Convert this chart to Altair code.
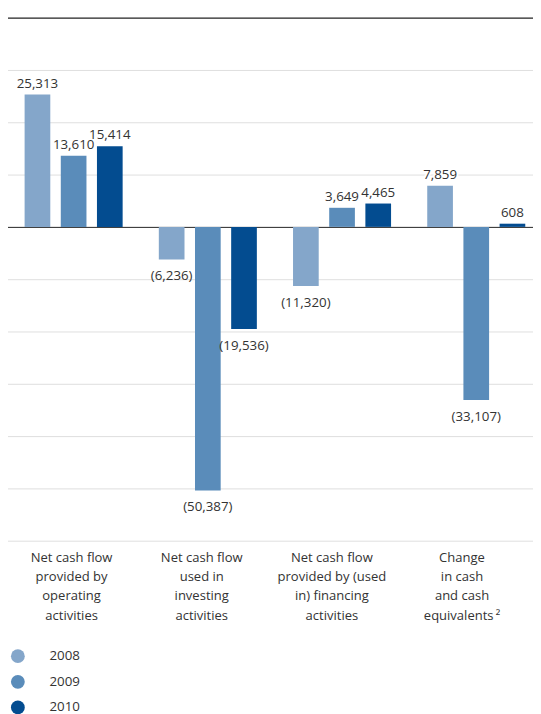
import altair as alt
import pandas as pd

categories = [
    "Net cash flow\nprovided by\noperating\nactivities",
    "Net cash flow\nused in\ninvesting\nactivities",
    "Net cash flow\nprovided by (used\nin) financing\nactivities",
    "Change\nin cash\nand cash\nequivalents\u2009\u00b2",
]
years = ["2008", "2009", "2010"]
values_2008 = [25313, -6236, -11320, 7859]
values_2009 = [13610, -50387, 3649, -33107]
values_2010 = [15414, -19536, 4465, 608]
grid_ticks = [40000, 30000, 20000, 10000, 0, -10000, -20000, -30000, -40000, -50000, -60000]

colors = ["#84a6ca", "#5a8cba", "#034c90"]
FONT = "Open Sans"
FS = 13.5
TXT = "#333333"

rows = []
for yr, vals in zip(years, [values_2008, values_2009, values_2010]):
    for c, v in zip(categories, vals):
        rows.append({"category": c, "year": yr, "value": v})
df = pd.DataFrame(rows)
cat_df = pd.DataFrame({"category": categories})

W, H = 530, 530

def xenc():
    return alt.X("category:N", sort=categories,
                 scale=alt.Scale(domain=categories, range=[-3.5, 540.5],
                                 paddingInner=0, paddingOuter=0),
                 axis=None)

def xoff():
    return alt.XOffset("year:N", sort=years,
                       scale=alt.Scale(domain=years, paddingInner=0.29, paddingOuter=0.5))

yscale = alt.Scale(domain=[-60000, 40000], nice=False)

base = alt.Chart(df).encode(x=xenc(), xOffset=xoff())

bars = base.mark_bar().encode(
    y=alt.Y("value:Q", scale=yscale,
            axis=alt.Axis(values=grid_ticks, grid=True, labels=False, ticks=False,
                          domain=False, title=None,
                          gridColor=alt.condition("datum.value == 0 || datum.value == 40000",
                                                  alt.value("#222222"), alt.value("#dedede")),
                          gridWidth=alt.condition("datum.value == 40000",
                                                  alt.value(1.4), alt.value(1)))),
    color=alt.Color("year:N", sort=years,
                    scale=alt.Scale(domain=years, range=colors),
                    legend=alt.Legend(title=None, orient="none", legendX=1, legendY=640,
                                      direction="vertical", symbolType="circle",
                                      symbolSize=196, symbolStrokeWidth=0,
                                      symbolOpacity=1,
                                      labelFont=FONT, labelFontSize=FS, labelColor=TXT,
                                      labelOffset=25, rowPadding=12, padding=0)),
)

lab_expr = "datum.value < 0 ? '(' + format(-datum.value, ',') + ')' : format(datum.value, ',')"
labbase = base.transform_calculate(lab=lab_expr)

def txt(filt, dy, baseline, halo):
    kw = dict(font=FONT, fontSize=FS, dy=dy, baseline=baseline, align="center")
    if halo:
        kw.update(stroke="white", strokeWidth=4, strokeJoin="round", fill="white")
    else:
        kw.update(color=TXT)
    return labbase.transform_filter(filt).mark_text(**kw).encode(
        y=alt.Y("value:Q", scale=yscale), text="lab:N")

pos_h = txt("datum.value >= 0", -4, "bottom", True)
pos_t = txt("datum.value >= 0", -4, "bottom", False)
neg_t = txt("datum.value < 0", 10, "top", False)

cat_text = alt.Chart(cat_df).mark_text(
    font=FONT, fontSize=13.2, lineBreak="\n", lineHeight=19.3, baseline="top",
    align="center", color=TXT
).encode(
    x=alt.X("category:N", sort=categories,
            scale=alt.Scale(domain=categories, range=[-3.5, 524],
                            paddingInner=0, paddingOuter=0),
            axis=None),
    y=alt.value(542),
    text="category:N",
)

chart = alt.layer(bars, pos_h, pos_t, neg_t, cat_text).resolve_scale(
    x="independent"
).properties(
    width=W, height=H,
    padding={"left": 2, "top": 5, "right": 0, "bottom": 185},
    autosize=alt.AutoSizeParams(type="none"),
).configure_view(stroke=None)

chart.save("out.html", embed_options={"renderer": "svg", "actions": False})
